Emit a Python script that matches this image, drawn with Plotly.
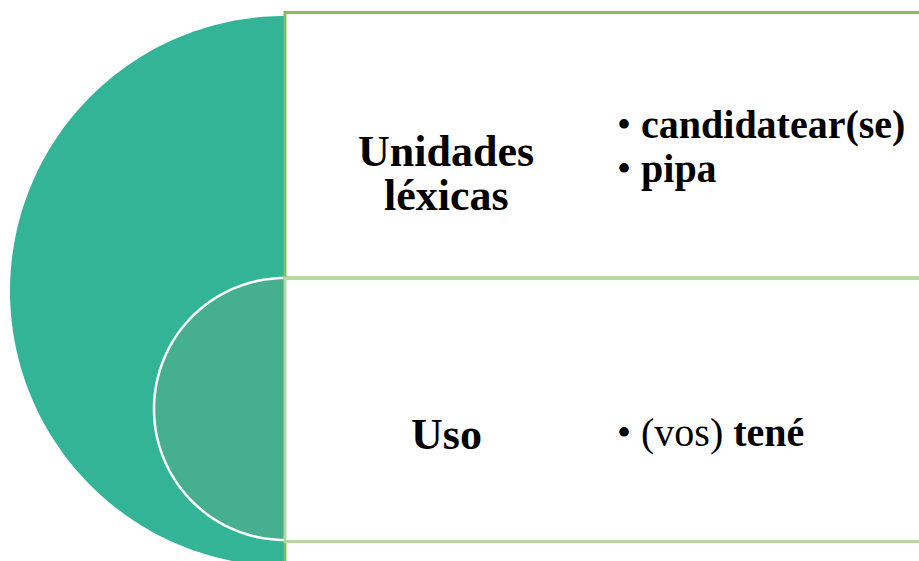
import numpy as np
import plotly.graph_objects as go

W, H = 919, 561

# Content
row_labels = [["Unidades", "léxicas"], ["Uso"]]
row_bullets = [["<b>candidatear(se)</b>", "<b>pipa</b>"], ["(vos) <b>tené</b>"]]

big_c, big_r = (285, 291), 275
small_c, small_r = (285, 409), 131

def circle_pts(c, r, n=160):
    t = np.linspace(np.pi / 2, 3 * np.pi / 2, n)
    xs = c[0] + r * np.cos(t)
    ys = c[1] - r * np.sin(t)
    return [f"{x:.2f},{y:.2f}" for x, y in zip(xs, ys)]

def half_circle_path(c, r):
    return "M" + " L".join(circle_pts(c, r)) + " Z"

def arc_path(c, r):
    return "M" + " L".join(circle_pts(c, r))

fig = go.Figure()
shapes = []
shapes.append(dict(type="path", path=half_circle_path(big_c, big_r),
                   fillcolor="#34B497", line=dict(width=0), layer="below"))
shapes.append(dict(type="path", path=half_circle_path(small_c, small_r),
                   fillcolor="#45AF8F", line=dict(width=0), layer="below"))
shapes.append(dict(type="path", path=arc_path(small_c, small_r),
                   line=dict(color="white", width=2.5), layer="below"))
shapes.append(dict(type="rect", x0=285, x1=940, y0=12.5, y1=278,
                   line=dict(color="#86BB5E", width=3), fillcolor="rgba(0,0,0,0)"))
shapes.append(dict(type="rect", x0=285, x1=940, y0=278, y1=541.5,
                   line=dict(color="#B6D7A2", width=3), fillcolor="rgba(0,0,0,0)"))
shapes.append(dict(type="line", x0=285, x1=285, y0=543, y1=565,
                   line=dict(color="#86BB5E", width=3)))
fig.update_layout(shapes=shapes)

font = dict(family="Liberation Serif, Times New Roman, serif", color="black")
LS, BS = 44, 40
ann = []
ann.append(dict(x=446, y=151, text="<b>" + row_labels[0][0] + "</b>", showarrow=False,
                font=dict(size=LS, **font), xanchor="center", yanchor="middle", height=40))
ann.append(dict(x=446, y=195, text="<b>" + row_labels[0][1] + "</b>", showarrow=False,
                font=dict(size=LS, **font), xanchor="center", yanchor="middle", height=40))
ann.append(dict(x=446, y=434, text="<b>" + row_labels[1][0] + "</b>", showarrow=False,
                font=dict(size=LS, **font), xanchor="center", yanchor="middle"))
for yy, txt in zip([124, 168], row_bullets[0]):
    ann.append(dict(x=615, y=yy, text="• " + txt, showarrow=False,
                    font=dict(size=BS, **font), xanchor="left", yanchor="middle"))
ann.append(dict(x=615, y=432, text="• " + row_bullets[1][0], showarrow=False,
                font=dict(size=BS, **font), xanchor="left", yanchor="middle"))

fig.update_layout(
    annotations=ann,
    width=W, height=H,
    margin=dict(l=0, r=0, t=0, b=0),
    paper_bgcolor="white", plot_bgcolor="white",
    xaxis=dict(range=[0, W], visible=False, fixedrange=True),
    yaxis=dict(range=[H, 0], visible=False, fixedrange=True),
    showlegend=False,
)
fig.write_html("out.html", config={"displayModeBar": False},
               post_script="document.body.style.margin='0';document.body.style.overflow='hidden';")
